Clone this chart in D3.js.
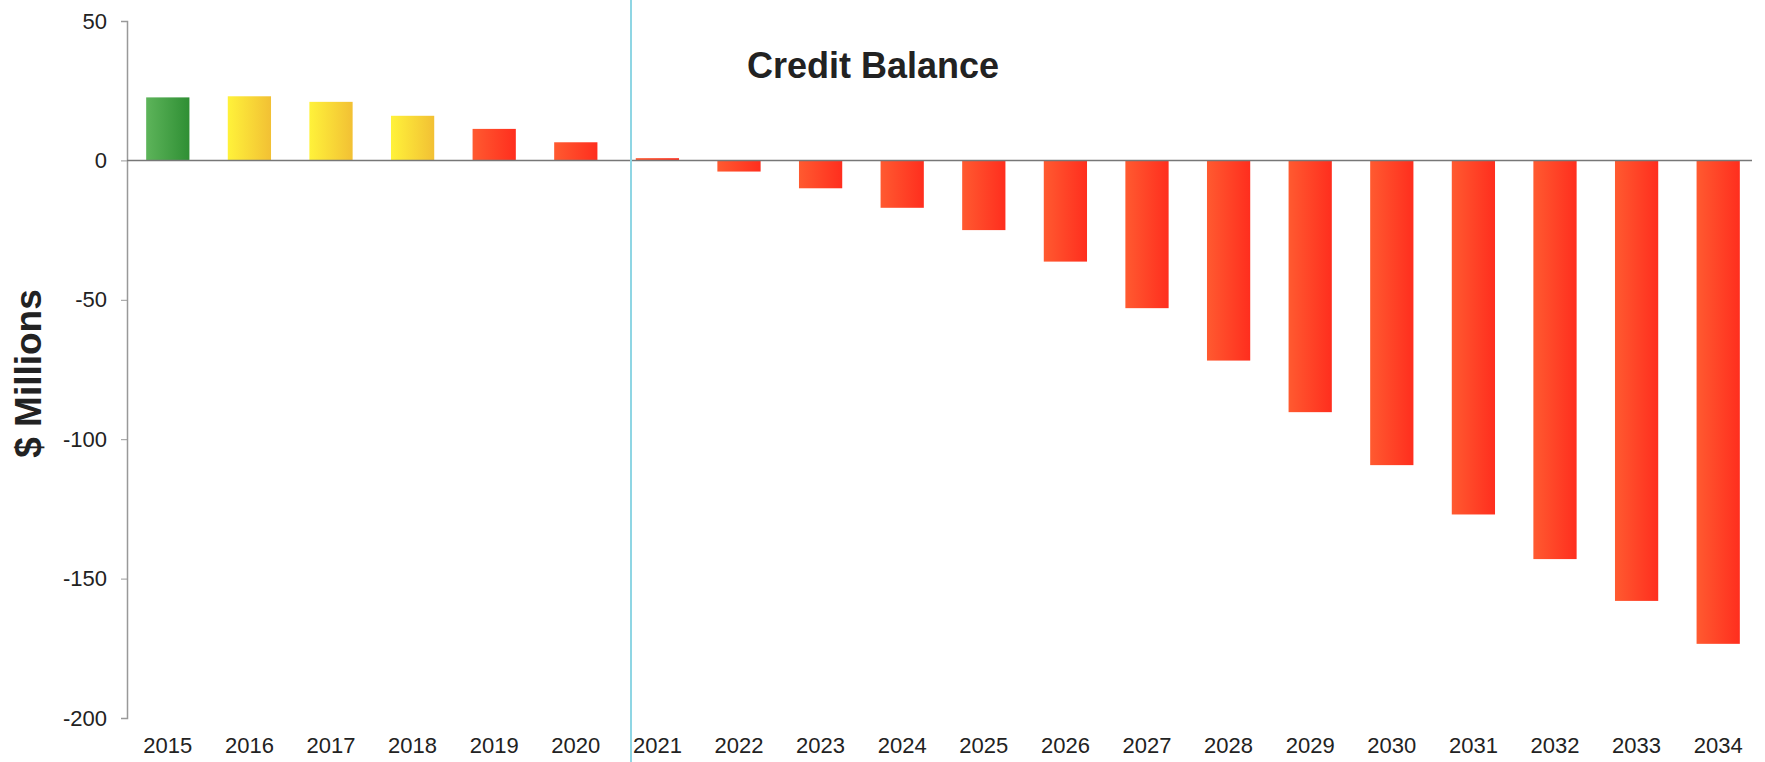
<!DOCTYPE html>
<html>
<head>
<meta charset="utf-8">
<script src="https://cdn.jsdelivr.net/npm/d3@7"></script>
<style>
  body { margin: 0; background: #fff; }
  text { font-family: "Liberation Sans", Arial, sans-serif; fill: #222; }
</style>
</head>
<body>
<script>
    const years = ["2015","2016","2017","2018","2019","2020","2021","2022","2023","2024",
                   "2025","2026","2027","2028","2029","2030","2031","2032","2033","2034"];
    const balance = [22.6, 23, 21, 16, 11.3, 6.5, 0.8, -4, -10, -17,
                     -25, -36.3, -53, -71.8, -90.3, -109.3, -127, -143, -158, -173.4];
    // colour group per bar: g = green, y = yellow, r = red
    const status = ["g","y","y","y","r","r","r","r","r","r",
                    "r","r","r","r","r","r","r","r","r","r"];
    const yTicks = [50, 0, -50, -100, -150, -200];

    const width = 1765, height = 762;
    const plotLeft = 127, plotRight = 1759, plotTop = 21, plotBottom = 718;

    const svg = d3.select("body").append("svg")
        .attr("width", width)
        .attr("height", height);

    const grads = {
        g: ["#5db45a", "#2f8f34"],
        y: ["#fff23a", "#f2c034"],
        r: ["#ff5a30", "#ff2e1e"]
    };
    const defs = svg.append("defs");
    Object.keys(grads).forEach(k => {
        const lg = defs.append("linearGradient").attr("id", "grad-" + k)
            .attr("x1", "0%").attr("x2", "100%").attr("y1", "0%").attr("y2", "0%");
        lg.append("stop").attr("offset", "0%").attr("stop-color", grads[k][0]);
        lg.append("stop").attr("offset", "100%").attr("stop-color", grads[k][1]);
    });

    const x = d3.scaleBand().domain(years).range([plotLeft, plotRight]).paddingInner(0.47).paddingOuter(0.235);
    const y = d3.scaleLinear().domain([-200, 50]).range([plotBottom, plotTop]);

    // y axis (plain hyphen for negatives, like the original)
    const yAxis = svg.append("g")
        .attr("transform", `translate(${plotLeft},0)`)
        .call(d3.axisLeft(y).tickValues(yTicks).tickSize(6).tickPadding(14).tickFormat(d => String(d)));
    yAxis.select(".domain").attr("stroke", "#999").attr("stroke-width", 1.5);
    yAxis.selectAll(".tick line").attr("stroke", "#999");
    yAxis.selectAll(".tick text").style("font-size", "22px").attr("fill", "#222");

    // bars
    svg.selectAll("rect.bar").data(years).enter().append("rect")
        .attr("class", "bar")
        .attr("x", d => x(d))
        .attr("width", x.bandwidth())
        .attr("y", (d, i) => y(Math.max(0, balance[i])))
        .attr("height", (d, i) => Math.abs(y(balance[i]) - y(0)))
        .attr("fill", (d, i) => `url(#grad-${status[i]})`);

    // zero line
    svg.append("line")
        .attr("x1", plotLeft).attr("x2", 1752)
        .attr("y1", y(0)).attr("y2", y(0))
        .attr("stroke", "#777").attr("stroke-width", 1.5);

    // x labels
    svg.selectAll("text.xlab").data(years).enter().append("text")
        .attr("class", "xlab")
        .attr("x", d => x(d) + x.bandwidth() / 2)
        .attr("y", 753)
        .attr("text-anchor", "middle")
        .style("font-size", "22px")
        .text(d => d);

    // divider between history and projection
    svg.append("line")
        .attr("x1", 631).attr("x2", 631)
        .attr("y1", 0).attr("y2", height)
        .attr("stroke", "#8fd6e4").attr("stroke-width", 2);

    svg.append("text")
        .attr("x", 873).attr("y", 78)
        .attr("text-anchor", "middle")
        .style("font-size", "36px").style("font-weight", "bold")
        .text("Credit Balance");

    svg.append("text")
        .attr("transform", `translate(41,${(plotTop + plotBottom) / 2 + 4}) rotate(-90)`)
        .attr("text-anchor", "middle")
        .style("font-size", "37px").style("font-weight", "bold")
        .text("$ Millions");
</script>
</body>
</html>
